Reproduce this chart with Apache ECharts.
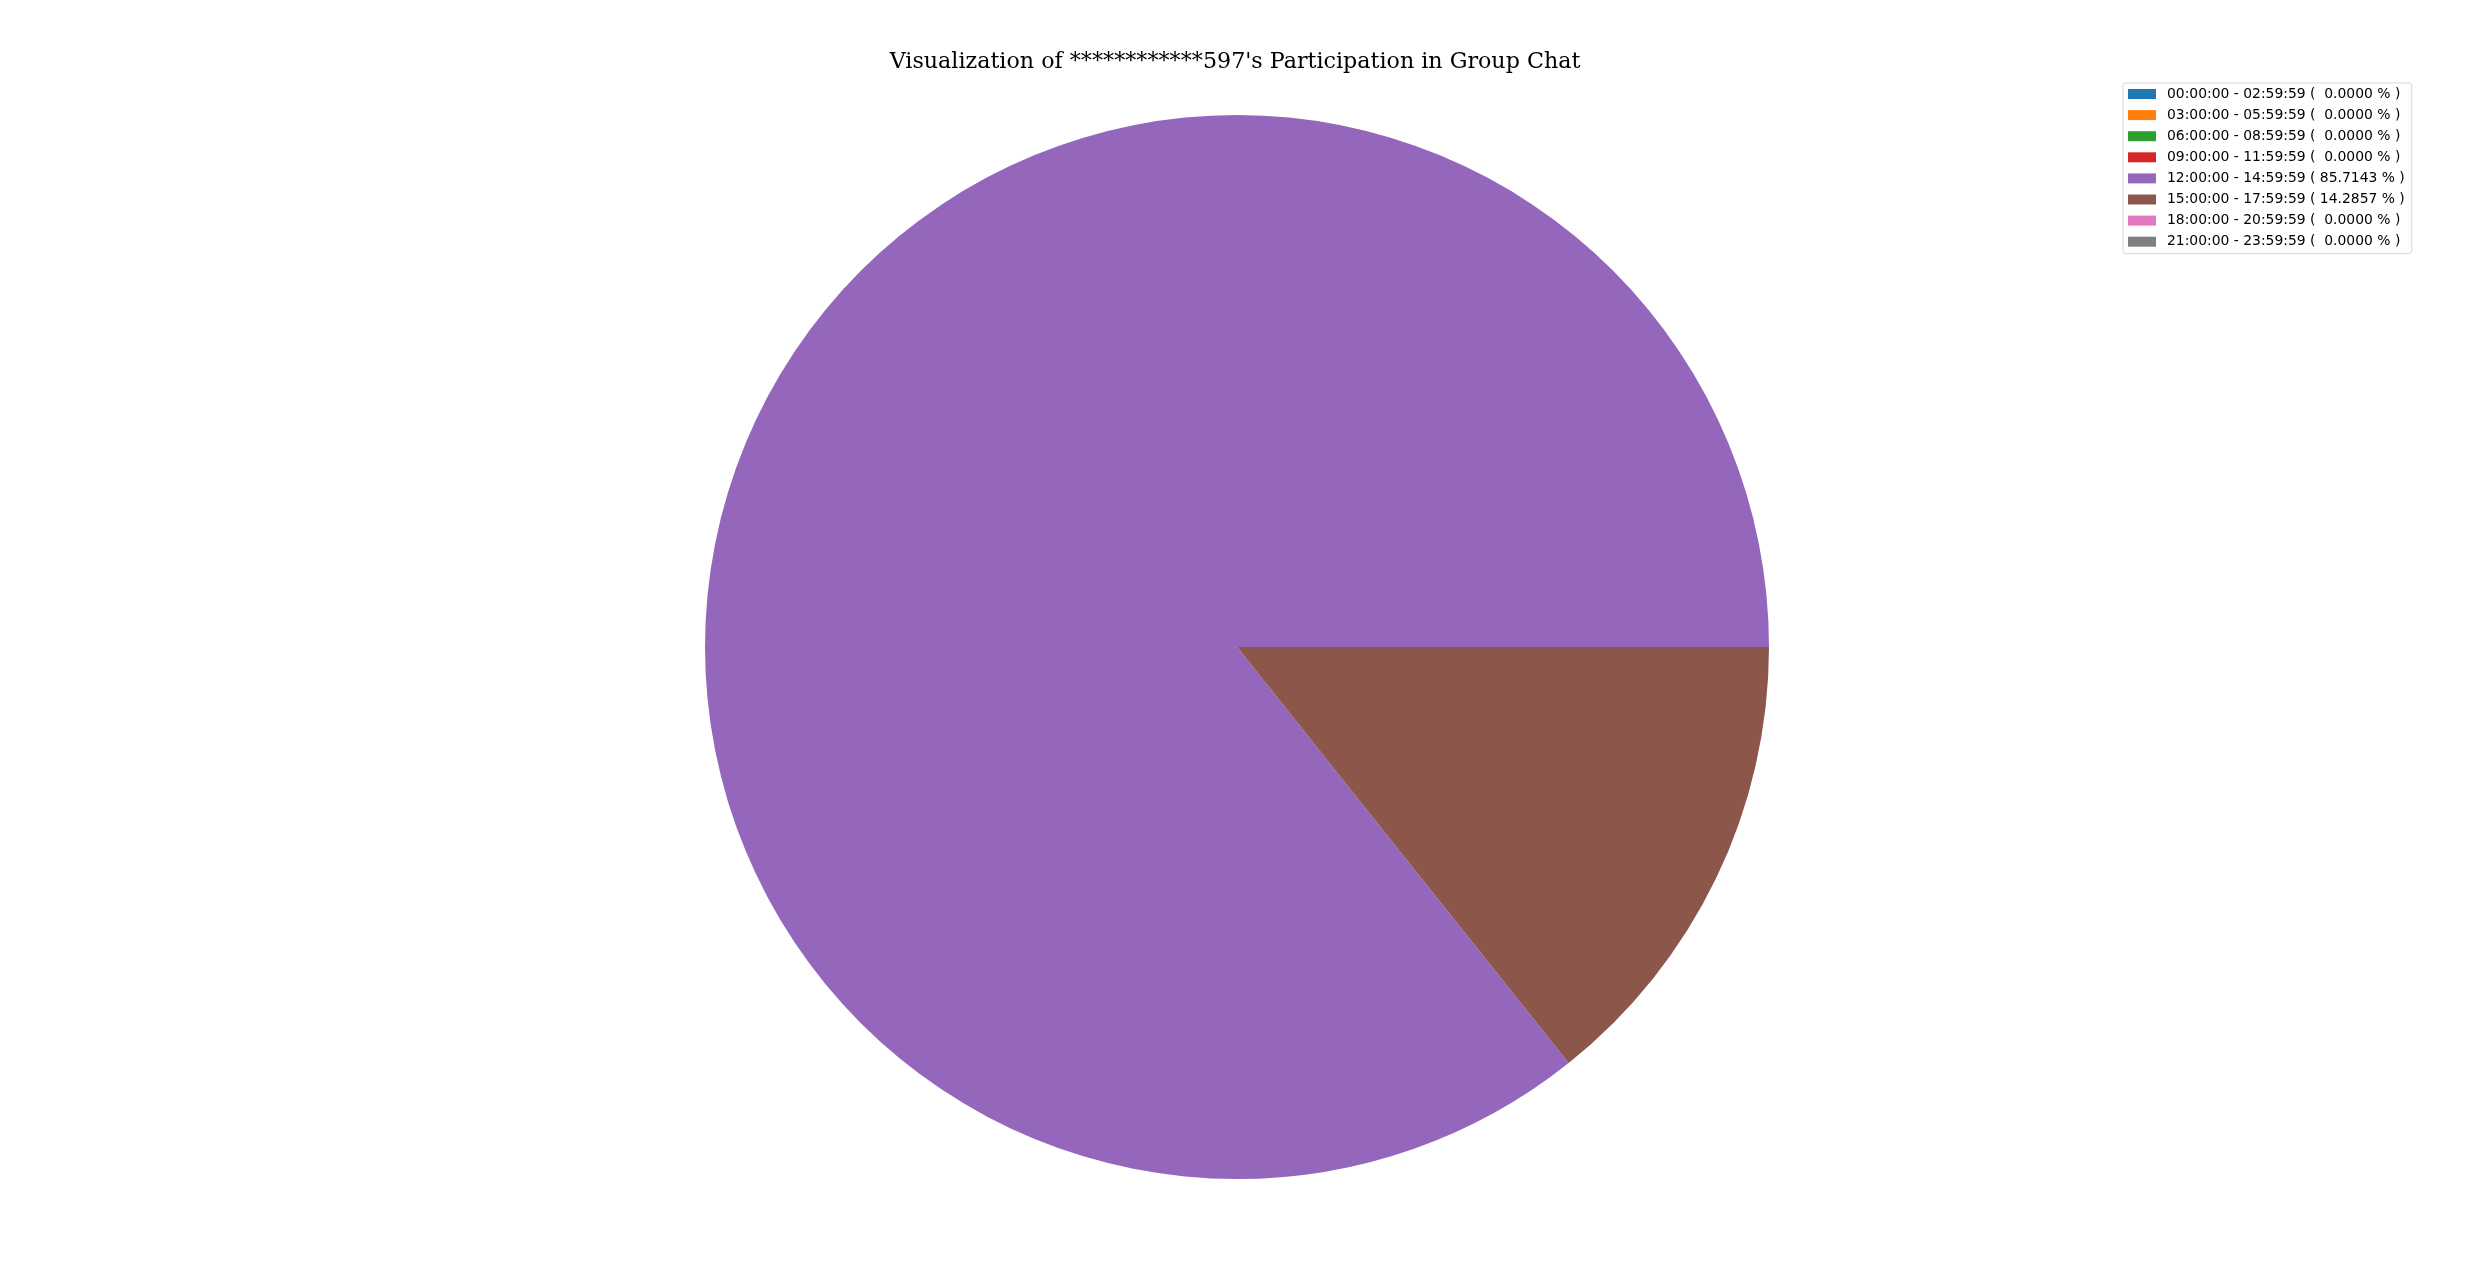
<!DOCTYPE html>
<html>
<head>
<meta charset="utf-8">
<title>Group Chat Participation</title>
<script src="https://cdn.jsdelivr.net/npm/echarts@6/dist/echarts.min.js"></script>
<style>
  html, body { margin: 0; padding: 0; background: #fff; }
  #chart { width: 2470px; height: 1270px; }
</style>
</head>
<body>
<div id="chart"></div>
<script>
var titleText = "Visualization of ************597's Participation in Group Chat";

// time slots (3 hours each)
var slots = [
  '00:00:00 - 02:59:59',
  '03:00:00 - 05:59:59',
  '06:00:00 - 08:59:59',
  '09:00:00 - 11:59:59',
  '12:00:00 - 14:59:59',
  '15:00:00 - 17:59:59',
  '18:00:00 - 20:59:59',
  '21:00:00 - 23:59:59'
];

// message counts per slot
var counts = [0, 0, 0, 0, 6, 1, 0, 0];

var colors = ['#1f77b4', '#ff7f0e', '#2ca02c', '#d62728', '#9467bd', '#8c564b', '#e377c2', '#7f7f7f'];

var total = 0;
for (var i = 0; i < counts.length; i++) {
  total += counts[i];
}

// legend text like "( 85.7143 % )"
function pctLabel(name) {
  var idx = slots.indexOf(name);
  var pct = total ? counts[idx] / total * 100 : 0;
  var s = pct.toFixed(4);
  while (s.length < 7) s = ' ' + s;
  return name + ' ( ' + s + ' % )';
}

var dataset = slots.map(function(name, i) {
  return {
    name: name,
    value: counts[i],
    itemStyle: { color: colors[i] }
  };
});

var myChart = echarts.init(document.getElementById('chart'));

var option = {
  backgroundColor: '#ffffff',
  animation: false,
  title: {
    text: titleText,
    left: 'center',
    top: 51,
    padding: 0,
    textStyle: {
      fontFamily: 'DejaVu Serif',
      fontWeight: 'normal',
      fontSize: 22.2,
      color: '#000'
    }
  },
  legend: {
    orient: 'vertical',
    left: 2123,
    top: 83,
    padding: [3, 7, 4, 5],
    itemWidth: 28,
    itemHeight: 10,
    itemGap: 5.1,
    icon: 'rect',
    selectedMode: false,
    borderColor: '#d6d6d6',
    borderWidth: 1,
    borderRadius: 3,
    backgroundColor: '#ffffff',
    data: slots,
    formatter: pctLabel,
    textStyle: {
      fontFamily: 'DejaVu Sans',
      fontSize: 13.9,
      lineHeight: 16,
      color: '#000',
      padding: [0, 0, 0, 6]
    }
  },
  series: [{
    type: 'pie',
    center: [1237, 647],
    radius: 532,
    startAngle: 0,
    clockwise: false,
    minAngle: 0,
    avoidLabelOverlap: false,
    label: { show: false },
    labelLine: { show: false },
    emphasis: { disabled: true },
    itemStyle: { borderWidth: 0 },
    data: dataset
  }]
};

myChart.setOption(option);
</script>
</body>
</html>
